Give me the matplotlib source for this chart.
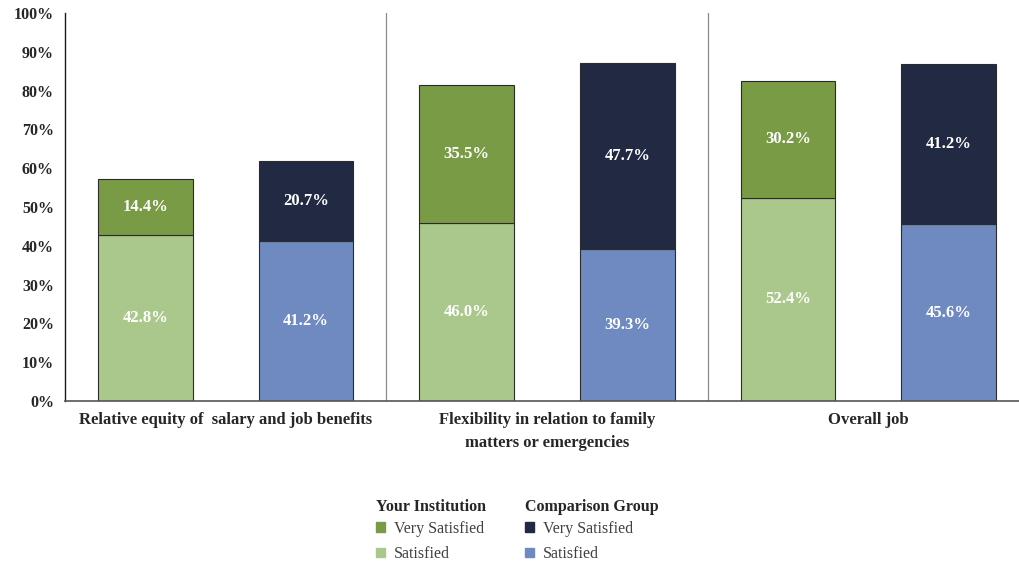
import matplotlib
matplotlib.use("Agg")
import matplotlib.pyplot as plt
from matplotlib.patches import Patch

plt.rcParams['font.family'] = ['Liberation Serif', 'DejaVu Serif']

categories = ["Relative equity of  salary and job benefits",
              "Flexibility in relation to family\nmatters or emergencies",
              "Overall job"]
inst_satisfied = [42.8, 46.0, 52.4]
inst_very = [14.4, 35.5, 30.2]
comp_satisfied = [41.2, 39.3, 45.6]
comp_very = [20.7, 47.7, 41.2]
yticks = [0, 10, 20, 30, 40, 50, 60, 70, 80, 90, 100]

c_inst_very = "#7A9B46"
c_inst_sat = "#AAC88C"
c_comp_very = "#212A42"
c_comp_sat = "#6F8AC0"
edge = "#2b2b2b"

fig = plt.figure(figsize=(10.2, 5.64), dpi=100)
ax = fig.add_axes([65 / 1020, 163 / 564, 964 / 1020, 388 / 564])

width = 0.295
x_inst = [i + 0.25 for i in range(len(categories))]
x_comp = [i + 0.75 for i in range(len(categories))]

ax.bar(x_inst, inst_satisfied, width, color=c_inst_sat, edgecolor=edge, linewidth=0.8)
ax.bar(x_inst, inst_very, width, bottom=inst_satisfied, color=c_inst_very, edgecolor=edge, linewidth=0.8)
ax.bar(x_comp, comp_satisfied, width, color=c_comp_sat, edgecolor=edge, linewidth=0.8)
ax.bar(x_comp, comp_very, width, bottom=comp_satisfied, color=c_comp_very, edgecolor=edge, linewidth=0.8)

lbl = dict(ha="center", va="center", color="white", fontsize=12, fontweight="bold")
for xs, low, high in [(x_inst, inst_satisfied, inst_very), (x_comp, comp_satisfied, comp_very)]:
    for x, a, b in zip(xs, low, high):
        ax.text(x, a / 2, f"{a:.1f}%", **lbl)
        ax.text(x, a + b / 2, f"{b:.1f}%", **lbl)

# group separators
for s in range(1, len(categories)):
    ax.axvline(s, color="#8a8a8a", linewidth=0.9)

ax.set_xlim(0, len(categories))
ax.set_ylim(0, 100)
ax.set_yticks(yticks)
ax.set_yticklabels([f"{t}%" for t in yticks], fontsize=11.5, fontweight="bold", color="#262626")
ax.tick_params(axis="y", length=0, pad=8)
ax.set_xticks([i + 0.5 for i in range(len(categories))])
ax.set_xticklabels(categories, fontsize=12, fontweight="bold", color="#262626", linespacing=1.55)
ax.tick_params(axis="x", length=0, pad=8)

for side in ["top", "right"]:
    ax.spines[side].set_visible(False)
ax.spines["left"].set_color("#1a1a1a")
ax.spines["bottom"].set_color("#555555")
ax.spines["left"].set_linewidth(1.0)
ax.spines["bottom"].set_linewidth(1.2)

common = dict(frameon=False, fontsize=11.5, handlelength=0.55, handleheight=0.55,
              handletextpad=0.6, labelspacing=0.6, borderpad=0,
              title_fontproperties={"weight": "bold", "size": 11.5})
leg1 = fig.legend([Patch(color=c_inst_very), Patch(color=c_inst_sat)],
                  ["Very Satisfied", "Satisfied"], title="Your Institution",
                  loc="upper left", bbox_to_anchor=(368 / 1020, 1 - 491 / 564), **common)
leg2 = fig.legend([Patch(color=c_comp_very), Patch(color=c_comp_sat)],
                  ["Very Satisfied", "Satisfied"], title="Comparison Group",
                  loc="upper left", bbox_to_anchor=(517 / 1020, 1 - 491 / 564), **common)
for lg in (leg1, leg2):
    lg._legend_box.align = "left"
    lg._legend_box.sep = 4
    lg.get_title().set_color("#262626")
    for t in lg.get_texts():
        t.set_color("#404040")

fig.savefig("out.png", dpi=100, facecolor="white")
